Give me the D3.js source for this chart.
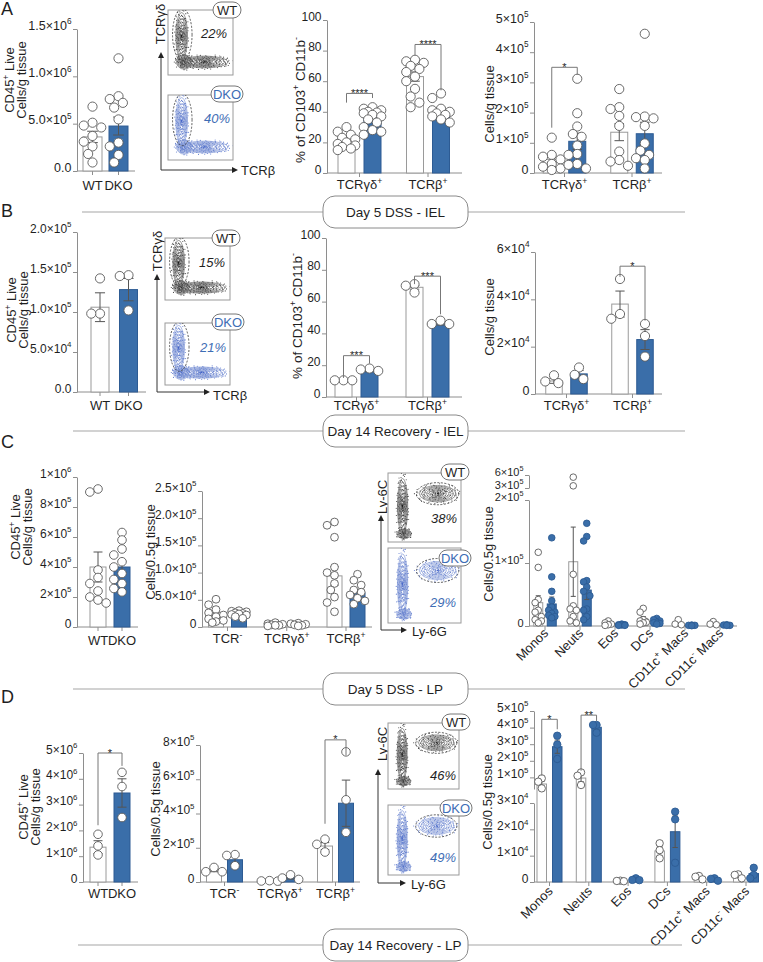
<!DOCTYPE html>
<html><head><meta charset="utf-8">
<script src="https://cdn.jsdelivr.net/npm/d3@7"></script>
<style>
body{margin:0;background:#fff}
svg{display:block}
text{font-family:"Liberation Sans",Arial,Helvetica,sans-serif;fill:#1f1f1f}
</style>
</head><body>
<svg id="c" width="763" height="962"></svg>
<script>
// ---------------- DATA ----------------
const genotypes = ["WT", "DKO"];
const tcr2Cats = ["TCRγδ^{+}", "TCRβ^{+}"];
const tcr3Cats = ["TCR^{-}", "TCRγδ^{+}", "TCRβ^{+}"];
const myeloidCats = ["Monos", "Neuts", "Eos", "DCs", "CD11c^{+} Macs", "CD11c^{-} Macs"];
const sectionLabels = ["Day 5 DSS - IEL", "Day 14 Recovery - IEL", "Day 5 DSS - LP", "Day 14 Recovery - LP"];
const panelLetters = ["A", "B", "C", "D"];
const flowPctA = ["22%", "40%"];
const flowPctB = ["15%", "21%"];
const flowPctC = ["38%", "29%"];
const flowPctD = ["46%", "49%"];

// A1 total CD45+ live
const aLiveTicks = [0, 5e5, 1e6, 1.5e6];
const aLiveTickLabels = ["0.0", "5.0×10^{5}", "1.0×10^{6}", "1.5×10^{6}"];
const aLiveMeanWT = [3.6e5], aLiveMeanDKO = [4.75e5];
const aLiveSemWT = [0.6e5], aLiveSemDKO = [0.95e5];
const aLiveWT = [6.8e5, 5.1e5, 4.8e5, 4.6e5, 3.7e5, 3.1e5, 2.6e5, 1.8e5, 0.9e5];
const aLiveDKO = [1.19e6, 7.9e5, 7.6e5, 7.2e5, 6.7e5, 5.45e5, 3.0e5, 2.6e5, 1.7e5, 0.9e5];

// A2 % of CD103+ CD11b-
const pctTicks = [0, 20, 40, 60, 80, 100];
const pctTickLabels = ["0", "20", "40", "60", "80", "100"];
const aPctMeanWT = [21, 63], aPctMeanDKO = [36, 40];
const aPctSemWT = [1.4, 3.0], aPctSemDKO = [1.5, 1.8];
const aPctGdWT = [30, 27, 25, 23, 22, 20, 19, 18, 17, 16, 15];
const aPctGdDKO = [43, 42, 41, 40, 39.5, 39, 38, 37, 35, 33, 30, 28, 27, 25];
const aPctBWT = [74, 73, 72, 70, 68, 66, 63, 60, 55, 50, 46, 43];
const aPctBDKO = [52, 49, 42, 41, 40, 39, 38, 37, 35, 33];
const aPctStars = ["****", "****"];
const aPctBrackets = [[52, 46, 49], [84, 77, 54]];

// A3 cells/g tissue
const aCntTicks = [0, 1e5, 2e5, 3e5, 4e5, 5e5];
const aCntTickLabels = ["0", "1×10^{5}", "2×10^{5}", "3×10^{5}", "4×10^{5}", "5×10^{5}"];
const aCntMeanWT = [0.45e5, 1.35e5], aCntMeanDKO = [1.05e5, 1.3e5];
const aCntSemWT = [0.1e5, 0.28e5], aCntSemDKO = [0.27e5, 0.38e5];
const aCntGdWT = [1.17e5, 0.6e5, 0.54e5, 0.45e5, 0.3e5, 0.21e5, 0.15e5, 0.1e5];
const aCntGdDKO = [3.12e5, 1.98e5, 1.54e5, 1.29e5, 1.2e5, 0.91e5, 0.63e5, 0.6e5, 0.3e5, 0.27e5, 0.15e5];
const aCntBWT = [2.78e5, 2.18e5, 2.12e5, 1.89e5, 1.56e5, 0.71e5, 0.43e5, 0.38e5, 0.24e5];
const aCntBDKO = [4.61e5, 1.87e5, 1.85e5, 1.81e5, 1.56e5, 0.98e5, 0.74e5, 0.6e5, 0.49e5, 0.43e5, 0.15e5];
const aCntStars = ["*"];
const aCntBrackets = [[3.5e5, 1.5e5, 3.25e5]];

// B1
const bLiveTicks = [0, 5e4, 1e5, 1.5e5, 2e5];
const bLiveTickLabels = ["0.0", "5.0×10^{4}", "1.0×10^{5}", "1.5×10^{5}", "2.0×10^{5}"];
const bLiveMeanWT = [1.06e5], bLiveMeanDKO = [1.28e5];
const bLiveSemWT = [0.18e5], bLiveSemDKO = [0.14e5];
const bLiveWT = [1.42e5, 0.98e5, 0.98e5];
const bLiveDKO = [1.45e5, 1.46e5, 1.02e5];

// B2
const bPctMeanWT = [10.5, 69], bPctMeanDKO = [16.5, 46];
const bPctSemWT = [0.3, 1.2], bPctSemDKO = [0.6, 0.7];
const bPctGdWT = [10.5, 10.5, 10.5];
const bPctGdDKO = [16.4, 17.9, 17.3];
const bPctBWT = [71, 65.7, 70];
const bPctBDKO = [48, 45.9, 45.9];
const bPctStars = ["***", "***"];
const bPctBrackets = [[26, 12, 21], [76, 71, 52]];

// B3
const bCntTicks = [0, 2e4, 4e4, 6e4];
const bCntTickLabels = ["0", "2×10^{4}", "4×10^{4}", "6×10^{4}"];
const bCntMeanWT = [0.55e4, 3.8e4], bCntMeanDKO = [0.85e4, 2.3e4];
const bCntSemWT = [0.1e4, 0.55e4], bCntSemDKO = [0.14e4, 0.42e4];
const bCntGdWT = [0.79e4, 0.46e4, 0.53e4];
const bCntGdDKO = [1.12e4, 0.63e4, 0.81e4];
const bCntBWT = [4.86e4, 3.18e4, 3.38e4];
const bCntBDKO = [2.96e4, 2.45e4, 1.58e4];
const bCntStars = ["*"];
const bCntBrackets = [[5.4e4, 4.95e4, 3.1e4]];

// C1
const cLiveTicks = [0, 2e5, 4e5, 6e5, 8e5, 1e6];
const cLiveTickLabels = ["0", "2×10^{5}", "4×10^{5}", "6×10^{5}", "8×10^{5}", "1×10^{6}"];
const cLiveMeanWT = [4.0e5], cLiveMeanDKO = [4.0e5];
const cLiveSemWT = [1.0e5], cLiveSemDKO = [0.38e5];
const cLiveWT = [9.0e5, 9.2e5, 3.8e5, 3.3e5, 2.9e5, 2.4e5, 2.0e5, 1.8e5, 1.6e5];
const cLiveDKO = [6.3e5, 5.8e5, 5.2e5, 4.8e5, 4.35e5, 4.0e5, 3.57e5, 3.17e5, 2.9e5, 2.57e5, 2.34e5];

// C2
const cTcrTicks = [0, 5e4, 1e5, 1.5e5, 2e5, 2.5e5];
const cTcrTickLabels = ["0", "5.0×10^{4}", "1.0×10^{5}", "1.5×10^{5}", "2.0×10^{5}", "2.5×10^{5}"];
const cTcrMeanWT = [2.3e4, 0.45e4, 9.4e4], cTcrMeanDKO = [2.6e4, 0.45e4, 6.25e4];
const cTcrSemWT = [0.45e4, 0.08e4, 1.7e4], cTcrSemDKO = [0.15e4, 0.07e4, 0.6e4];
const cTcrNegWT = [5.1e4, 4.1e4, 3.2e4, 2.6e4, 2.2e4, 1.9e4, 1.5e4, 1.2e4, 1.0e4, 0.8e4];
const cTcrNegDKO = [3.0e4, 2.9e4, 2.8e4, 2.6e4, 2.5e4, 2.4e4, 2.3e4, 2.2e4, 1.9e4, 1.6e4];
const cTcrGdWT = [0.8e4, 0.6e4, 0.5e4, 0.4e4, 0.3e4, 0.3e4, 0.2e4];
const cTcrGdDKO = [0.7e4, 0.6e4, 0.5e4, 0.4e4, 0.3e4, 0.2e4];
const cTcrBWT = [1.93e5, 1.87e5, 1.65e5, 1.1e5, 1.0e5, 0.95e5, 0.8e5, 0.68e5, 0.55e5, 0.45e5, 0.28e5];
const cTcrBDKO = [0.97e5, 0.86e5, 0.77e5, 0.68e5, 0.64e5, 0.59e5, 0.53e5, 0.48e5, 0.42e5];

// C3 myeloid (broken axis)
const cMyTicksLow = [0, 1e5, 2e5], cMyTickLabelsLow = ["0", "1×10^{5}", "2×10^{5}"];
const cMyTicksHigh = [3e5, 6e5], cMyTickLabelsHigh = ["3×10^{5}", "6×10^{5}"];
const cMyMeanWT = [0.37e5, 1.02e5, 0.04e5, 0.12e5, 0.05e5, 0.04e5];
const cMyMeanDKO = [0.35e5, 0.57e5, 0.02e5, 0.07e5, 0.01e5, 0.015e5];
const cMySemWT = [0.11e5, 0.55e5, 0.01e5, 0.03e5, 0.02e5, 0.015e5];
const cMySemDKO = [0.11e5, 0.15e5, 0.003e5, 0.01e5, 0.002e5, 0.003e5];
const cMonoWT = [1.17e5, 0.93e5, 0.42e5, 0.37e5, 0.25e5, 0.22e5, 0.15e5, 0.1e5, 0.08e5, 0.05e5];
const cMonoDKO = [1.4e5, 0.78e5, 0.55e5, 0.4e5, 0.3e5, 0.25e5, 0.22e5, 0.2e5, 0.17e5, 0.15e5, 0.13e5];
const cNeutWT = [5.5e5, 3.5e5, 0.82e5, 0.32e5, 0.27e5, 0.25e5, 0.15e5, 0.08e5, 0.05e5];
const cNeutDKO = [1.63e5, 1.42e5, 1.35e5, 0.72e5, 0.7e5, 0.62e5, 0.55e5, 0.48e5, 0.27e5, 0.25e5, 0.15e5, 0.1e5];
const cEosWT = [0.08e5, 0.05e5, 0.03e5, 0.02e5, 0.01e5];
const cEosDKO = [0.03e5, 0.02e5, 0.02e5, 0.015e5, 0.01e5, 0.01e5];
const cDcWT = [0.28e5, 0.22e5, 0.1e5, 0.08e5, 0.06e5, 0.05e5, 0.03e5];
const cDcDKO = [0.12e5, 0.1e5, 0.08e5, 0.06e5, 0.05e5, 0.04e5, 0.03e5];
const cMacPWT = [0.1e5, 0.03e5, 0.02e5];
const cMacPDKO = [0.015e5, 0.01e5, 0.01e5, 0.005e5];
const cMacNWT = [0.07e5, 0.03e5, 0.02e5];
const cMacNDKO = [0.02e5, 0.015e5, 0.01e5, 0.01e5];

// D1
const dLiveTicks = [0, 1e6, 2e6, 3e6, 4e6, 5e6];
const dLiveTickLabels = ["0", "1×10^{6}", "2×10^{6}", "3×10^{6}", "4×10^{6}", "5×10^{6}"];
const dLiveMeanWT = [1.35e6], dLiveMeanDKO = [3.45e6];
const dLiveSemWT = [0.25e6], dLiveSemDKO = [0.55e6];
const dLiveWT = [1.85e6, 1.4e6, 1.05e6];
const dLiveDKO = [4.25e6, 3.7e6, 2.5e6];
const dLiveStars = ["*"];
const dLiveBrackets = [[5.0e6, 2.2e6, 4.5e6]];

// D2
const dTcrTicks = [0, 2e5, 4e5, 6e5, 8e5];
const dTcrTickLabels = ["0", "2×10^{5}", "4×10^{5}", "6×10^{5}", "8×10^{5}"];
const dTcrMeanWT = [0.68e5, 0.06e5, 2.1e5], dTcrMeanDKO = [1.3e5, 0.25e5, 4.6e5];
const dTcrSemWT = [0.08e5, 0.01e5, 0.2e5], dTcrSemDKO = [0.2e5, 0.08e5, 1.35e5];
const dTcrNegWT = [0.85e5, 0.6e5, 0.6e5];
const dTcrNegDKO = [1.6e5, 1.55e5, 0.95e5];
const dTcrGdWT = [0.08e5, 0.06e5, 0.05e5];
const dTcrGdDKO = [0.42e5, 0.23e5, 0.15e5];
const dTcrBWT = [2.5e5, 2.2e5, 1.75e5];
const dTcrBDKO = [7.6e5, 4.8e5, 2.9e5];
const dTcrStars = ["*"];
const dTcrBrackets = [[8.3e5, 3.4e5, 7.4e5]];

// D3 myeloid (broken axis)
const dMyTicksLow = [0, 1e4, 2e4, 3e4], dMyTickLabelsLow = ["0", "1×10^{4}", "2×10^{4}", "3×10^{4}"];
const dMyTicksHigh = [1e5, 2e5, 3e5, 4e5, 5e5], dMyTickLabelsHigh = ["1×10^{5}", "2×10^{5}", "3×10^{5}", "4×10^{5}", "5×10^{5}"];
const dMyMeanWT = [0.6e5, 0.96e5, 0.04e4, 1.18e4, 0.15e4, 0.23e4];
const dMyMeanDKO = [2.85e5, 4.02e5, 0.1e4, 1.91e4, 0.1e4, 0.32e4];
const dMySemWT = [0.15e5, 0.22e5, 0.005e4, 0.17e4, 0.05e4, 0.05e4];
const dMySemDKO = [0.4e5, 0.15e5, 0.03e4, 0.6e4, 0.03e4, 0.12e4];
const dMonoWT = [0.94e5, 0.74e5, 0.34e5];
const dMonoDKO = [3.51e5, 2.98e5, 2.11e5];
const dNeutWT = [1.3e5, 1.1e5, 0.54e5];
const dNeutDKO = [4.16e5, 4.16e5, 3.69e5];
const dEosWT = [0.05e4, 0.04e4, 0.03e4];
const dEosDKO = [0.14e4, 0.08e4, 0.07e4];
const dDcWT = [1.47e4, 1.21e4, 0.9e4];
const dDcDKO = [2.67e4, 2.38e4, 0.73e4];
const dMacPWT = [0.23e4, 0.2e4, 0.1e4];
const dMacPDKO = [0.14e4, 0.12e4, 0.05e4];
const dMacNWT = [0.29e4, 0.27e4, 0.14e4];
const dMacNDKO = [0.54e4, 0.27e4, 0.14e4];
const dMyStars = ["*", "**"];
const dMyBrackets = [[4.5e5, 1.1e5, 3.9e5], [4.75e5, 1.4e5, 4.4e5]];

// ---------------- DRAWING ----------------
const svg = d3.select("#c");
svg.append("rect").attr("width", 763).attr("height", 962).attr("fill", "#fff");
const AX = "#8e8e8e", TXT = "#1f1f1f", BLUE = "#3a6ea9", BLUE_D = "#2d5b93", PT = "#5a5a5a";

function rich(t, str, fs) {
  const parts = str.split(/(\^\{[^}]*\})/).filter(s => s.length);
  let shift = 0;
  parts.forEach(p => {
    if (p.startsWith("^{")) {
      t.append("tspan").attr("dy", -fs * 0.42).attr("font-size", fs * 0.66).text(p.slice(2, -1));
      shift = fs * 0.42;
    } else {
      t.append("tspan").attr("dy", shift).text(p);
      shift = 0;
    }
  });
}

function swarm(vals, yf, r, maxOff) {
  const items = vals.map(v => ({ v, y: yf(v) })).sort((a, b) => a.y - b.y);
  const placed = [];
  const step = r * 0.95;
  const cands = [0];
  for (let k = 1; k <= 8; k++) cands.push(-k * step, k * step);
  const ok = cands.filter(d => Math.abs(d) <= maxOff + 0.01);
  items.forEach(p => {
    let best = null, bestD = -1, fb = 0;
    for (const dx of ok) {
      const md = placed.length ? d3.min(placed, q => Math.hypot(q.dx - dx, q.y - p.y)) : Infinity;
      if (md >= 2 * r * 0.85) { best = dx; break; }
      if (md > bestD) { bestD = md; fb = dx; }
    }
    p.dx = best !== null ? best : fb;
    placed.push(p);
  });
  return placed;
}

function barChart(cfg) {
  const g = svg.append("g");
  const segs = cfg.segments.map(s => ({ scale: d3.scaleLinear().domain(s.domain).range(s.range), ticks: s.ticks, labels: s.labels }));
  const y = v => { for (const s of segs) { if (v <= s.scale.domain()[1]) return s.scale(v); } return segs[segs.length - 1].scale(v); };
  const y0 = y(0);
  segs.forEach(s => {
    const ax = d3.axisLeft(s.scale).tickValues(s.ticks).tickSize(4).tickSizeOuter(0).tickPadding(1.5);
    const a = g.append("g").attr("transform", `translate(${cfg.x0},0)`).call(ax);
    a.attr("font-size", cfg.tickFs).attr("font-family", null);
    a.select(".domain").attr("stroke", AX);
    a.selectAll(".tick line").attr("stroke", AX);
    a.selectAll(".tick text").each(function (d, i) {
      const t = d3.select(this);
      t.text(null).attr("fill", TXT);
      rich(t, s.labels[i], cfg.tickFs);
    });
  });
  // x axis
  const xc = d3.scalePoint().domain(d3.range(cfg.cats.length)).range(cfg.catRange);
  const xs = d3.scalePoint().domain(genotypes).range([-cfg.offset, cfg.offset]);
  g.append("line").attr("x1", cfg.x0).attr("x2", cfg.x1).attr("y1", y0).attr("y2", y0).attr("stroke", AX);
  const tickXs = cfg.subLabels ? genotypes.map(gt => xc(0) + xs(gt)) : cfg.cats.map((c, i) => xc(i));
  g.selectAll(null).data(tickXs).join("line").attr("x1", d => d).attr("x2", d => d)
    .attr("y1", y0).attr("y2", y0 + 4).attr("stroke", AX);
  // bars
  cfg.cats.forEach((c, ci) => {
    genotypes.forEach((gt, gi) => {
      const cx = xc(ci) + xs(gt);
      const m = cfg.means[gi][ci];
      g.append("rect").attr("x", cx - cfg.barW / 2).attr("y", y(m)).attr("width", cfg.barW)
        .attr("height", Math.max(0, y0 - y(m)))
        .attr("fill", gi ? BLUE : "#fff").attr("stroke", gi ? BLUE_D : "#9a9a9a").attr("stroke-width", 1);
    });
  });
  // error bars
  cfg.cats.forEach((c, ci) => {
    genotypes.forEach((gt, gi) => {
      const cx = xc(ci) + xs(gt);
      const m = cfg.means[gi][ci], e = cfg.sems[gi][ci];
      if (!e) return;
      const yt = y(m + e), yb = y(Math.max(0, m - e)), cw = cfg.barW * 0.28;
      const col = "#555";
      g.append("line").attr("x1", cx).attr("x2", cx).attr("y1", yt).attr("y2", yb).attr("stroke", col);
      g.append("line").attr("x1", cx - cw).attr("x2", cx + cw).attr("y1", yt).attr("y2", yt).attr("stroke", col);
      g.append("line").attr("x1", cx - cw).attr("x2", cx + cw).attr("y1", yb).attr("y2", yb).attr("stroke", col);
    });
  });
  // points
  cfg.cats.forEach((c, ci) => {
    genotypes.forEach((gt, gi) => {
      const cx = xc(ci) + xs(gt);
      const pts = swarm(cfg.pts[gi][ci], y, cfg.r, cfg.barW * 0.55);
      g.selectAll(null).data(pts).join("circle")
        .attr("cx", d => cx + d.dx).attr("cy", d => d.y).attr("r", cfg.r)
        .attr("fill", gi && cfg.dkoFill ? cfg.dkoFill : "#fff")
        .attr("stroke", gi && cfg.dkoFill ? BLUE_D : PT).attr("stroke-width", 0.9);
    });
  });
  // brackets
  (cfg.brackets || []).forEach(b => {
    const xL = xc(b.ci) + xs("WT"), xR = xc(b.ci) + xs("DKO");
    g.append("path").attr("d", `M${xL},${y(b.v[1])}V${y(b.v[0])}H${xR}V${y(b.v[2])}`)
      .attr("fill", "none").attr("stroke", "#777").attr("stroke-width", 1);
    g.append("text").attr("x", (xL + xR) / 2).attr("y", y(b.v[0]) + 3.5).attr("text-anchor", "middle")
      .attr("font-size", 11).text(b.text);
  });
  // category labels
  if (cfg.subLabels) {
    genotypes.forEach(gt => {
      g.append("text").attr("x", xc(0) + xs(gt)).attr("y", cfg.labelY).attr("text-anchor", "middle")
        .attr("font-size", cfg.labelFs).text(gt);
    });
  } else {
    cfg.cats.forEach((c, ci) => {
      const t = g.append("text").attr("font-size", cfg.labelFs);
      if (cfg.rotate) {
        t.attr("text-anchor", "end").attr("transform", `translate(${xc(ci) + 4},${cfg.labelY}) rotate(-45)`);
      } else {
        t.attr("text-anchor", "middle").attr("x", xc(ci)).attr("y", cfg.labelY);
      }
      rich(t, c, cfg.labelFs);
    });
  }
  // y title
  cfg.yTitle.lines.forEach((ln, i) => {
    const t = g.append("text").attr("text-anchor", "middle").attr("font-size", cfg.yTitle.fs || 13)
      .attr("transform", `translate(${cfg.yTitle.xs[i]},${cfg.yTitle.cy}) rotate(-90)`);
    rich(t, ln, cfg.yTitle.fs || 13);
  });
}

function brackets(arr, stars) { return arr.map((v, i) => ({ v, text: stars[i] })); }

// ---- Panel A ----
barChart({ x0: 77, x1: 135, tickFs: 12.5,
  segments: [{ domain: [0, 1.5e6], range: [171, 29], ticks: aLiveTicks, labels: aLiveTickLabels }],
  cats: [""], catRange: [105.5, 105.5], offset: 13, barW: 19, r: 4.6, subLabels: true, labelY: 190, labelFs: 13,
  means: [aLiveMeanWT, aLiveMeanDKO], sems: [aLiveSemWT, aLiveSemDKO], pts: [[aLiveWT], [aLiveDKO]],
  yTitle: { lines: ["CD45^{+} Live", "Cells/g tissue"], xs: [14, 26], cy: 80 } });

barChart({ x0: 327, x1: 462, tickFs: 12,
  segments: [{ domain: [0, 100], range: [173, 20], ticks: pctTicks, labels: pctTickLabels }],
  cats: tcr2Cats, catRange: [359.5, 428], offset: 13, barW: 17, r: 4.6, labelY: 189, labelFs: 13,
  means: [aPctMeanWT, aPctMeanDKO], sems: [aPctSemWT, aPctSemDKO], pts: [[aPctGdWT, aPctBWT], [aPctGdDKO, aPctBDKO]],
  brackets: brackets(aPctBrackets, aPctStars).map((b, i) => ({ ...b, ci: i })),
  yTitle: { lines: ["% of CD103^{+} CD11b^{-}"], xs: [305], cy: 100, fs: 13.5 } });

barChart({ x0: 534, x1: 662, tickFs: 12.5,
  segments: [{ domain: [0, 5e5], range: [173, 22], ticks: aCntTicks, labels: aCntTickLabels }],
  cats: tcr2Cats, catRange: [564.5, 632], offset: 12.75, barW: 17, r: 4.6, labelY: 189, labelFs: 13,
  means: [aCntMeanWT, aCntMeanDKO], sems: [aCntSemWT, aCntSemDKO], pts: [[aCntGdWT, aCntBWT], [aCntGdDKO, aCntBDKO]],
  brackets: brackets(aCntBrackets, aCntStars).map(b => ({ ...b, ci: 0 })),
  yTitle: { lines: ["Cells/g tissue"], xs: [494], cy: 104 } });

// ---- Panel B ----
barChart({ x0: 77, x1: 146, tickFs: 12,
  segments: [{ domain: [0, 2e5], range: [392, 232], ticks: bLiveTicks, labels: bLiveTickLabels }],
  cats: [""], catRange: [114.25, 114.25], offset: 14.25, barW: 18, r: 4.6, subLabels: true, labelY: 410, labelFs: 13,
  means: [bLiveMeanWT, bLiveMeanDKO], sems: [bLiveSemWT, bLiveSemDKO], pts: [[bLiveWT], [bLiveDKO]],
  yTitle: { lines: ["CD45^{+} Live", "Cells/g tissue"], xs: [16, 28], cy: 310 } });

barChart({ x0: 326, x1: 462, tickFs: 12,
  segments: [{ domain: [0, 100], range: [397, 238], ticks: pctTicks, labels: pctTickLabels }],
  cats: tcr2Cats, catRange: [356.5, 427.5], offset: 13, barW: 17, r: 4.6, labelY: 410, labelFs: 13,
  means: [bPctMeanWT, bPctMeanDKO], sems: [bPctSemWT, bPctSemDKO], pts: [[bPctGdWT, bPctBWT], [bPctGdDKO, bPctBDKO]],
  brackets: brackets(bPctBrackets, bPctStars).map((b, i) => ({ ...b, ci: i })),
  yTitle: { lines: ["% of CD103^{+} CD11b^{-}"], xs: [302], cy: 316, fs: 13.5 } });

barChart({ x0: 535, x1: 662, tickFs: 12.5,
  segments: [{ domain: [0, 6e4], range: [394, 252], ticks: bCntTicks, labels: bCntTickLabels }],
  cats: tcr2Cats, catRange: [566.5, 632.5], offset: 12.5, barW: 16.5, r: 4.6, labelY: 410, labelFs: 13,
  means: [bCntMeanWT, bCntMeanDKO], sems: [bCntSemWT, bCntSemDKO], pts: [[bCntGdWT, bCntBWT], [bCntGdDKO, bCntBDKO]],
  brackets: brackets(bCntBrackets, bCntStars).map(b => ({ ...b, ci: 1 })),
  yTitle: { lines: ["Cells/g tissue"], xs: [494], cy: 317 } });

// ---- Panel C ----
barChart({ x0: 77, x1: 138, tickFs: 12,
  segments: [{ domain: [0, 1e6], range: [627, 477], ticks: cLiveTicks, labels: cLiveTickLabels }],
  cats: [""], catRange: [110, 110], offset: 12, barW: 16, r: 4.3, subLabels: true, labelY: 645, labelFs: 13,
  means: [cLiveMeanWT, cLiveMeanDKO], sems: [cLiveSemWT, cLiveSemDKO], pts: [[cLiveWT], [cLiveDKO]],
  yTitle: { lines: ["CD45^{+} Live", "Cells/g tissue"], xs: [20, 32], cy: 527 } });

barChart({ x0: 202, x1: 372, tickFs: 12,
  segments: [{ domain: [0, 2.5e5], range: [627, 491], ticks: cTcrTicks, labels: cTcrTickLabels }],
  cats: tcr3Cats, catRange: [227.5, 346], offset: 11.5, barW: 15, r: 3.9, labelY: 643, labelFs: 13,
  means: [cTcrMeanWT, cTcrMeanDKO], sems: [cTcrSemWT, cTcrSemDKO],
  pts: [[cTcrNegWT, cTcrGdWT, cTcrBWT], [cTcrNegDKO, cTcrGdDKO, cTcrBDKO]],
  yTitle: { lines: ["Cells/0.5g tissue"], xs: [155], cy: 552 } });

barChart({ x0: 529, x1: 737, tickFs: 11,
  segments: [{ domain: [0, 2e5], range: [626, 500], ticks: cMyTicksLow, labels: cMyTickLabelsLow },
             { domain: [3e5, 6e5], range: [488, 475], ticks: cMyTicksHigh, labels: cMyTickLabelsHigh }],
  cats: myeloidCats, catRange: [545, 720], offset: 6.75, barW: 9, r: 3.3, rotate: true, labelY: 634, labelFs: 13,
  dkoFill: BLUE,
  means: [cMyMeanWT, cMyMeanDKO], sems: [cMySemWT, cMySemDKO],
  pts: [[cMonoWT, cNeutWT, cEosWT, cDcWT, cMacPWT, cMacNWT], [cMonoDKO, cNeutDKO, cEosDKO, cDcDKO, cMacPDKO, cMacNDKO]],
  yTitle: { lines: ["Cells/0.5g tissue"], xs: [493], cy: 554 } });

// ---- Panel D ----
barChart({ x0: 83, x1: 138, tickFs: 12,
  segments: [{ domain: [0, 5e6], range: [882, 753], ticks: dLiveTicks, labels: dLiveTickLabels }],
  cats: [""], catRange: [110, 110], offset: 12, barW: 16, r: 4.3, subLabels: true, labelY: 898, labelFs: 13,
  means: [dLiveMeanWT, dLiveMeanDKO], sems: [dLiveSemWT, dLiveSemDKO], pts: [[dLiveWT], [dLiveDKO]],
  brackets: brackets(dLiveBrackets, dLiveStars).map(b => ({ ...b, ci: 0 })),
  yTitle: { lines: ["CD45^{+} Live", "Cells/g tissue"], xs: [28, 40], cy: 807 } });

barChart({ x0: 200, x1: 360, tickFs: 12,
  segments: [{ domain: [0, 8e5], range: [882, 745], ticks: dTcrTicks, labels: dTcrTickLabels }],
  cats: tcr3Cats, catRange: [224.5, 335.5], offset: 10.5, barW: 15, r: 4.3, labelY: 898, labelFs: 13,
  means: [dTcrMeanWT, dTcrMeanDKO], sems: [dTcrSemWT, dTcrSemDKO],
  pts: [[dTcrNegWT, dTcrGdWT, dTcrBWT], [dTcrNegDKO, dTcrGdDKO, dTcrBDKO]],
  brackets: brackets(dTcrBrackets, dTcrStars).map(b => ({ ...b, ci: 2 })),
  yTitle: { lines: ["Cells/0.5g tissue"], xs: [160], cy: 809 } });

barChart({ x0: 534, x1: 758, tickFs: 12,
  segments: [{ domain: [0, 3e4], range: [882, 803], ticks: dMyTicksLow, labels: dMyTickLabelsLow },
             { domain: [3e4, 5e5], range: [789, 711], ticks: dMyTicksHigh, labels: dMyTickLabelsHigh }],
  cats: myeloidCats, catRange: [549.5, 746], offset: 7.75, barW: 9.5, r: 3.7, rotate: true, labelY: 892, labelFs: 13,
  dkoFill: BLUE,
  means: [dMyMeanWT, dMyMeanDKO], sems: [dMySemWT, dMySemDKO],
  pts: [[dMonoWT, dNeutWT, dEosWT, dDcWT, dMacPWT, dMacNWT], [dMonoDKO, dNeutDKO, dEosDKO, dDcDKO, dMacPDKO, dMacNDKO]],
  brackets: brackets(dMyBrackets, dMyStars).map((b, i) => ({ ...b, ci: i })),
  yTitle: { lines: ["Cells/0.5g tissue"], xs: [492], cy: 802 } });

// ---- Flow plots (schematic) ----
function halton(i, b) { let f = 1, r = 0; while (i > 0) { f /= b; r += f * (i % b); i = Math.floor(i / b); } return r; }
let clipN = 0;
const tcrShapes = [
  { cx: .21, cy: .40, rx: .09, ry: .36, n: 170 },
  { cx: .56, cy: .80, rx: .36, ry: .09, n: 170 },
  { cx: .25, cy: .80, rx: .12, ry: .11, n: 60 }];
const tcrGate = { cx: .22, cy: .38, rx: .15, ry: .40 };
const ly6Shapes = [
  { cx: .20, cy: .48, rx: .07, ry: .40, n: 190 },
  { cx: .22, cy: .88, rx: .10, ry: .07, n: 50 },
  { cx: .68, cy: .30, rx: .25, ry: .12, n: 130 }];
const ly6Gate = { cx: .68, cy: .30, rx: .29, ry: .16 };

function flowPlot(p) {
  const g = svg.append("g");
  const id = "clip" + (clipN++);
  g.append("clipPath").attr("id", id).append("rect")
    .attr("x", p.box.x).attr("y", p.box.y).attr("width", p.box.w).attr("height", p.box.h);
  g.append("rect").attr("x", p.box.x).attr("y", p.box.y).attr("width", p.box.w).attr("height", p.box.h)
    .attr("fill", "#fff").attr("stroke", "#9a9a9a");
  const inner = g.append("g").attr("clip-path", `url(#${id})`);
  const sx = d3.scaleLinear().domain([0, 1]).range([p.box.x, p.box.x + p.box.w]);
  const sy = d3.scaleLinear().domain([0, 1]).range([p.box.y, p.box.y + p.box.h]);
  const dotC = p.dko ? "#3d5fc6" : "#151515", ringC = p.dko ? "#7089d0" : "#555";
  p.shapes.forEach((s, si) => {
    const pts = d3.range(s.n).map(i => {
      const u = halton(i + 1 + si * 300, 2), v = halton(i + 1 + si * 300, 3);
      const rad = Math.pow(u, 0.9) * 1.3, a = 2 * Math.PI * v;
      return [sx(s.cx + s.rx * rad * Math.cos(a)), sy(s.cy + s.ry * rad * Math.sin(a))];
    });
    inner.selectAll(null).data(pts).join("circle").attr("cx", d => d[0]).attr("cy", d => d[1])
      .attr("r", 0.55).attr("fill", dotC).attr("opacity", 0.8);
  });
  p.shapes.forEach(s => {
    d3.range(7).forEach(k => {
      const f = 1 - k * 0.13;
      inner.append("ellipse").attr("cx", sx(s.cx)).attr("cy", sy(s.cy))
        .attr("rx", s.rx * p.box.w * f).attr("ry", s.ry * p.box.h * f)
        .attr("fill", "none").attr("stroke", ringC).attr("stroke-width", 0.6);
    });
  });
  inner.append("ellipse").attr("cx", sx(p.gate.cx)).attr("cy", sy(p.gate.cy))
    .attr("rx", p.gate.rx * p.box.w).attr("ry", p.gate.ry * p.box.h)
    .attr("fill", "none").attr("stroke", "#333").attr("stroke-width", 0.8).attr("stroke-dasharray", "2,1.5");
  const lab = p.dko ? "DKO" : "WT";
  const pw = p.dko ? 32 : 28;
  g.append("rect").attr("x", p.pill[0] - pw / 2).attr("y", p.pill[1] - 8).attr("width", pw).attr("height", 16)
    .attr("rx", 8).attr("fill", "#fff").attr("stroke", "#777");
  g.append("text").attr("x", p.pill[0]).attr("y", p.pill[1] + 4.5).attr("text-anchor", "middle")
    .attr("font-size", 13).style("fill", p.dko ? "#3e6db5" : TXT).text(lab);
  g.append("text").attr("x", p.pct[0]).attr("y", p.pct[1] + 4.5).attr("text-anchor", "middle")
    .attr("font-size", 13).attr("font-style", "italic").style("fill", p.dko ? "#3e6db5" : TXT).text(p.pctText);
}

function flowAxes(o) {
  const g = svg.append("g");
  g.append("path").attr("d", `M${o.ox},${o.top + 5}V${o.oy}H${o.right - 5}`).attr("fill", "none").attr("stroke", "#333");
  g.append("path").attr("d", `M${o.ox - 3},${o.top + 6}L${o.ox},${o.top}L${o.ox + 3},${o.top + 6}Z`).attr("fill", "#222");
  g.append("path").attr("d", `M${o.right - 6},${o.oy - 3}L${o.right},${o.oy}L${o.right - 6},${o.oy + 3}Z`).attr("fill", "#222");
  g.append("text").attr("x", o.xl[0]).attr("y", o.xl[1]).attr("font-size", 13).text(o.xText);
  g.append("text").attr("text-anchor", "middle").attr("font-size", 13)
    .attr("transform", `translate(${o.yl[0]},${o.yl[1]}) rotate(-90)`).text(o.yText);
}

// A flows
flowAxes({ ox: 161, oy: 170, top: 52, right: 238, xText: "TCRβ", xl: [241, 175], yText: "TCRγδ", yl: [165, 24] });
flowPlot({ box: { x: 168, y: 10, w: 65, h: 65 }, shapes: tcrShapes, gate: tcrGate, dko: false, pill: [227, 10], pct: [214, 33], pctText: flowPctA[0] });
flowPlot({ box: { x: 168, y: 95, w: 65, h: 65 }, shapes: tcrShapes, gate: tcrGate, dko: true, pill: [227, 94], pct: [217, 118], pctText: flowPctA[1] });

// B flows
flowAxes({ ox: 157, oy: 392, top: 274, right: 210, xText: "TCRβ", xl: [213, 400], yText: "TCRγδ", yl: [162, 251] });
flowPlot({ box: { x: 165, y: 238, w: 65, h: 62 }, shapes: tcrShapes, gate: tcrGate, dko: false, pill: [226, 238], pct: [212, 262], pctText: flowPctB[0] });
flowPlot({ box: { x: 165, y: 323, w: 65, h: 62 }, shapes: tcrShapes, gate: tcrGate, dko: true, pill: [228, 322], pct: [213, 347], pctText: flowPctB[1] });

// C flows
flowAxes({ ox: 381, oy: 630, top: 515, right: 407, xText: "Ly-6G", xl: [412, 636], yText: "Ly-6C", yl: [387, 497] });
flowPlot({ box: { x: 388, y: 473, w: 73, h: 69 }, shapes: ly6Shapes, gate: ly6Gate, dko: false, pill: [455, 472], pct: [444, 518], pctText: flowPctC[0] });
flowPlot({ box: { x: 388, y: 548, w: 73, h: 75 }, shapes: ly6Shapes, gate: ly6Gate, dko: true, pill: [455, 558], pct: [443, 602], pctText: flowPctC[1] });

// D flows
flowAxes({ ox: 378, oy: 883, top: 769, right: 406, xText: "Ly-6G", xl: [411, 889], yText: "Ly-6C", yl: [387, 744] });
flowPlot({ box: { x: 388, y: 723, w: 71, h: 66 }, shapes: ly6Shapes, gate: ly6Gate, dko: false, pill: [456, 722], pct: [443, 775], pctText: flowPctD[0] });
flowPlot({ box: { x: 388, y: 805, w: 71, h: 70 }, shapes: ly6Shapes, gate: ly6Gate, dko: true, pill: [456, 808], pct: [443, 857], pctText: flowPctD[1] });

// ---- Section dividers ----
const divLayout = [
  { y: 212, x1: 82, x2: 685 },
  { y: 431, x1: 73, x2: 685 },
  { y: 689, x1: 73, x2: 685 },
  { y: 945, x1: 78, x2: 682 }];
divLayout.forEach((d, i) => {
  svg.append("line").attr("x1", d.x1).attr("x2", d.x2).attr("y1", d.y).attr("y2", d.y).attr("stroke", "#a5a5a5");
  svg.append("rect").attr("x", 323).attr("y", d.y - 16).attr("width", 145).attr("height", 32).attr("rx", 12)
    .attr("fill", "#fff").attr("stroke", "#8a8a8a");
  svg.append("text").attr("x", 395.5).attr("y", d.y + 4.5).attr("text-anchor", "middle").attr("font-size", 13.5)
    .text(sectionLabels[i]);
});

// ---- Panel letters ----
const letterY = [15, 217, 448, 703];
panelLetters.forEach((L, i) => {
  svg.append("text").attr("x", 1).attr("y", letterY[i]).attr("font-size", 18).text(L);
});
</script>
</body></html>
